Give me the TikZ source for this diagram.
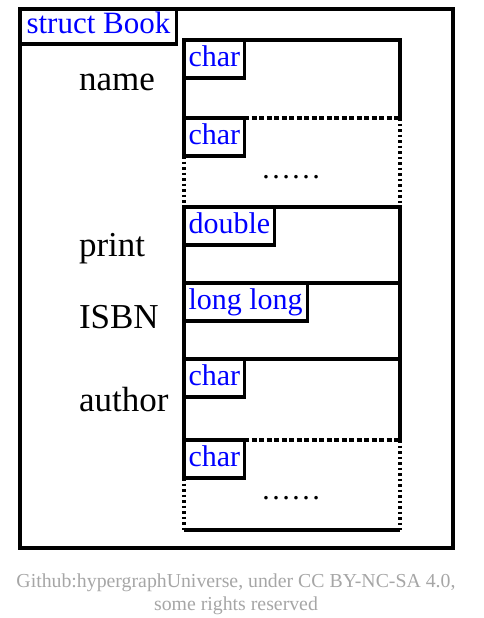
\documentclass[tikz,border=0pt]{standalone}
\usepackage{fontspec}
\setmainfont{Liberation Serif}
\usetikzlibrary{positioning}

\begin{document}
\begin{tikzpicture}[x=1pt, y=-1pt, line width=3.2pt, outer sep=0pt,
  fieldbox/.style={rectangle, minimum width=216pt, inner sep=0pt, anchor=north west},
  typebox/.style={draw, rectangle, anchor=north west, text=blue, font=\fontsize{30}{30}\selectfont,
    inner xsep=4.5pt, inner ysep=4.5pt, text height=22pt, text depth=7pt},
  varname/.style={anchor=base west, inner sep=0pt, font=\fontsize{35}{35}\selectfont},
  cut/.style={dash pattern=on 5pt off 2.5pt},
  more/.style={dash pattern=on 2.5pt off 3pt}]
    \useasboundingbox (0,0) rectangle (484,618);
    \node (book) [draw, rectangle, minimum width=433pt, minimum height=539pt, inner sep=0pt, anchor=north west] at (20,9) {};
    \node (title) [typebox, inner xsep=6.5pt, inner ysep=3pt, font=\fontsize{31}{31}\selectfont] at (book.north west) {struct Book};

    % name: char ......
    \node (f1) [fieldbox, minimum height=78pt] at (184,40) {};
    \node (f2) [fieldbox, minimum height=89pt] at (f1.south west) {};
    \node (t1) [typebox] at (f1.north west) {char};
    \node (t2) [typebox] at (f2.north west) {char};
    \draw (f1.south west) -- (f1.north west) -- (f1.north east) -- (f1.south east);
    \draw [cut] (f1.south west) -- (f1.south east);
    \draw [more] (t2.south west) -- (f2.south west);
    \draw [more] (f2.north east) -- (f2.south east);
    \node (dots1) [anchor=base, inner sep=0pt, font=\fontsize{30}{30}\selectfont] at (291,178) {……};

    % print, ISBN
    \node (f3) [fieldbox, draw, minimum height=76pt] at (f2.south west) {};
    \node (t3) [typebox] at (f3.north west) {double};
    \node (f4) [fieldbox, draw, minimum height=76pt] at (f3.south west) {};
    \node (t4) [typebox] at (f4.north west) {long long};

    % author: char ......
    \node (f5) [fieldbox, minimum height=81pt] at (f4.south west) {};
    \node (f6) [fieldbox, minimum height=90pt] at (f5.south west) {};
    \node (t5) [typebox] at (f5.north west) {char};
    \node (t6) [typebox] at (f6.north west) {char};
    \draw (f5.south west) -- (f5.north west) -- (f5.north east) -- (f5.south east);
    \draw [cut] (f5.south west) -- (f5.south east);
    \draw [more] (t6.south west) -- (f6.south west);
    \draw [more] (f6.north east) -- (f6.south east);
    \draw (f6.south west) -- (f6.south east);
    \node (dots2) [anchor=base, inner sep=0pt, font=\fontsize{30}{30}\selectfont] at (291,499) {……};

    \node (v1) [varname] at (79,90) {name};
    \node (v2) [varname] at (79,256) {print};
    \node (v3) [varname] at (79,328) {ISBN};
    \node (v4) [varname] at (79,411) {author};

    \node (credit) [anchor=base, inner sep=0pt, text=black!35, align=center, font=\fontsize{19.8}{23}\selectfont] at (236,610)
      {Github:hypergraphUniverse, under CC BY-NC-SA 4.0,\\ some rights reserved};
\end{tikzpicture}
\end{document}
